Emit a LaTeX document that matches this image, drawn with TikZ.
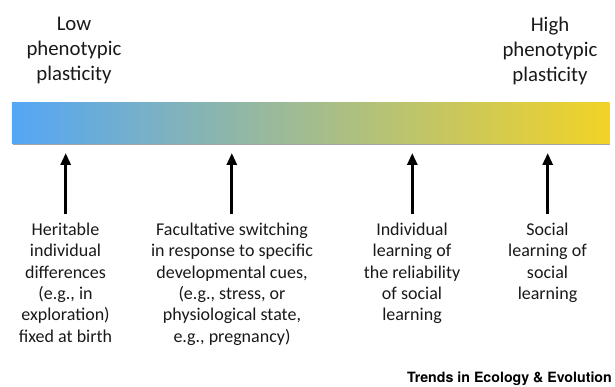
\documentclass[tikz,border=0pt]{standalone}
\usepackage{fontspec}
\setmainfont{Carlito}
\newfontfamily\footerfont{TeX Gyre Heros}
\usetikzlibrary{arrows.meta,shadows}

\definecolor{lowblue}{RGB}{84,166,246}
\definecolor{highyellow}{RGB}{242,211,38}
\definecolor{inktext}{RGB}{25,25,25}

\tikzset{
  endlabel/.style={anchor=north, inner sep=0pt, align=center, text=inktext,
    font=\fontsize{20.8}{25.4}\selectfont},
  collabel/.style={anchor=north, inner sep=0pt, align=center, text=inktext,
    font=\fontsize{18}{21.3}\selectfont},
  scalebar/.style={anchor=north west, inner sep=0pt, draw=none,
    left color=lowblue, right color=highyellow,
    minimum width=597.6pt, minimum height=41pt,
    drop shadow={shadow xshift=0.8pt, shadow yshift=-1.3pt, fill=black, opacity=0.35}},
  uparrow/.style={line width=2.8pt, -{Triangle[width=10pt,length=12pt]}, shorten >=9.3pt}
}

\begin{document}
\begin{tikzpicture}[x=1pt,y=-1pt]
  \useasboundingbox (0,0) rectangle (615,387);

  % plasticity scale
  \node[scalebar] (bar) at (11.7,102.3) {};

  % end labels
  \node[endlabel] (low)  at (74,16.5)  {Low\\phenotypic\\plasticity};
  \node[endlabel] (high) at (550,16.5) {High\\phenotypic\\plasticity};

  % mechanisms along the scale
  \node[collabel] (c1) at (65.5,223) {Heritable\\individual\\differences\\(e.g., in\\exploration)\\fixed at birth};
  \node[collabel] (c2) at (232,223) {Facultative switching\\in response to specific\\developmental cues,\\(e.g., stress, or\\physiological state,\\e.g., pregnancy)};
  \node[collabel] (c3) at (412,223) {Individual\\learning of\\the reliability\\of social\\learning};
  \node[collabel] (c4) at (547.5,223) {Social\\learning of\\social\\learning};

  % arrow bases
  \coordinate (a1) at (65.7,214.5);
  \coordinate (a2) at (231.8,214.5);
  \coordinate (a3) at (412.3,214.5);
  \coordinate (a4) at (547.7,214.5);

  \draw[uparrow] (a1) -- (a1 |- bar.south);
  \draw[uparrow] (a2) -- (a2 |- bar.south);
  \draw[uparrow] (a3) -- (a3 |- bar.south);
  \draw[uparrow] (a4) -- (a4 |- bar.south);

  % journal credit
  \node[anchor=base east, inner sep=0pt, text=black,
        font=\footerfont\bfseries\fontsize{14.2}{15}\selectfont] (credit) at (612,382)
        {Trends in Ecology \& Evolution};
\end{tikzpicture}
\end{document}
